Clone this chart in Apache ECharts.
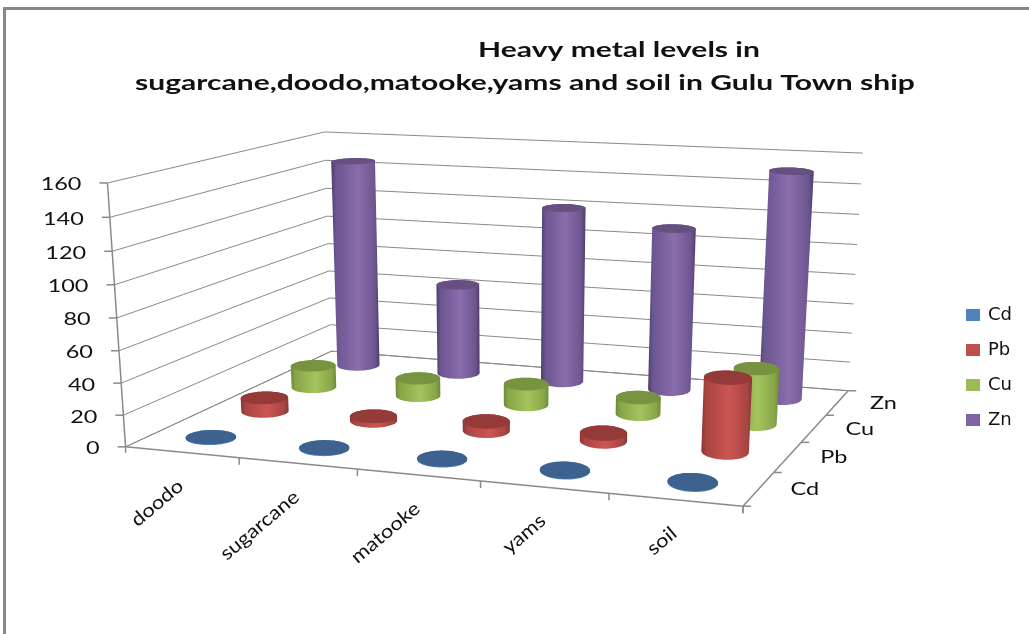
<!DOCTYPE html>
<html>
<head>
<meta charset="utf-8">
<title>Heavy metal levels</title>
<style>html,body{margin:0;padding:0;background:#fff}#chart{width:1029px;height:634px}</style>
<script src="https://cdn.jsdelivr.net/npm/echarts@6/dist/echarts.min.js"></script>
</head>
<body>
<div id="chart"></div>
<script>
// Sample sites and the metals measured at each one
const categories = ['doodo', 'sugarcane', 'matooke', 'yams', 'soil'];
const metals = ['Cd', 'Pb', 'Cu', 'Zn'];
const yTicks = [0, 20, 40, 60, 80, 100, 120, 140, 160];

// Concentration per site
const cdValues = [0.5, 0.5, 0.5, 0.5, 0.5];
const pbValues = [9, 3, 6, 5, 46];
const cuValues = [15, 12, 14, 11, 36];
const znValues = [145, 63, 120, 110, 151];
const valuesByMetal = [cdValues, pbValues, cuValues, znValues];

const titleLines = ['Heavy metal levels in', 'sugarcane,doodo,matooke,yams and soil in Gulu Town ship'];

// Office-style fill colours: legend swatch, lit side, shoulder, shaded edge, top cap
const swatch = ['#4F81BD', '#C0504D', '#9BBB59', '#8064A2'];
const lit = ['#5B8FD0', '#CC5553', '#A3C45D', '#8A6DAC'];
const shoulder = ['#4A78B0', '#A84542', '#88A548', '#6C5690'];
const edge = ['#3A6295', '#8A3634', '#6E8838', '#4F3D6B'];
const cap = ['#3D628F', '#943A38', '#78933F', '#66507F'];
const lineColor = '#8A8A8A';
const labelFont = 'Lato, "Open Sans", sans-serif';

// Camera calibration: [u, v, h] box corners and where they land on the page
const calibration = [
  [0, 0, 0, 125, 447], [1, 0, 0, 743, 506], [1, 1, 0, 848, 391], [0, 1, 0, 332, 351],
  [0, 0, 1, 108, 183], [0, 1, 1, 324, 132], [1, 1, 1, 863, 153]
];

// Least-squares fit of a 3x4 projective camera (last term fixed at 1)
function fitCamera(pts) {
  const n = 11, A = [...Array(n)].map(() => Array(n + 1).fill(0));
  const add = (row, rhs) => {
    for (let a = 0; a < n; a++) {
      for (let b = 0; b < n; b++) A[a][b] += row[a] * row[b];
      A[a][n] += row[a] * rhs;
    }
  };
  pts.forEach(([u, v, h, x, y]) => {
    add([u, v, h, 1, 0, 0, 0, 0, -x * u, -x * v, -x * h], x);
    add([0, 0, 0, 0, u, v, h, 1, -y * u, -y * v, -y * h], y);
  });
  for (let c = 0; c < n; c++) {
    let p = c;
    for (let r = c + 1; r < n; r++) if (Math.abs(A[r][c]) > Math.abs(A[p][c])) p = r;
    [A[c], A[p]] = [A[p], A[c]];
    for (let r = 0; r < n; r++) {
      if (r === c) continue;
      const f = A[r][c] / A[c][c];
      for (let k = c; k <= n; k++) A[r][k] -= f * A[c][k];
    }
  }
  return A.map((row, i) => row[n] / row[i]);
}
const cam = fitCamera(calibration);
function project(u, v, h) {
  const w = cam[8] * u + cam[9] * v + cam[10] * h + 1;
  return [(cam[0] * u + cam[1] * v + cam[2] * h + cam[3]) / w,
          (cam[4] * u + cam[5] * v + cam[6] * h + cam[7]) / w];
}

// Unit coordinates along the box
const unitU = (cs, x) => (x - cs.x) / cs.width;
const unitH = (cs, y) => (cs.y + cs.height - y) / cs.height;
const depthOf = j => (j + 0.5) / metals.length;

function line(a, b, width) {
  return {
    type: 'line',
    shape: { x1: a[0], y1: a[1], x2: b[0], y2: b[1] },
    style: { stroke: lineColor, lineWidth: width || 1 }
  };
}
function label(text, x, y, opts) {
  const o = opts || {};
  return {
    type: 'text', x, y,
    rotation: o.rotation || 0,
    scaleX: o.scaleX || 1.38,
    style: {
      text, fill: '#111', fontFamily: labelFont, fontSize: o.fontSize || 17,
      align: o.align || 'center', verticalAlign: 'middle'
    }
  };
}

function convexHull(points) {
  const p = points.slice().sort((a, b) => a[0] - b[0] || a[1] - b[1]);
  const cross = (o, a, b) => (a[0] - o[0]) * (b[1] - o[1]) - (a[1] - o[1]) * (b[0] - o[0]);
  const half = list => {
    const out = [];
    list.forEach(q => {
      while (out.length > 1 && cross(out[out.length - 2], out[out.length - 1], q) <= 0) out.pop();
      out.push(q);
    });
    out.pop();
    return out;
  };
  return half(p).concat(half(p.slice().reverse()));
}

// One metal's row of cylinders
const radiusU = 0.18 / categories.length;
const radiusV = 0.27 / metals.length;

// Disc at height z, levelled so it only keeps a slight lean that grows across the width
function disc(u, v, z) {
  const c = project(u, v, z);
  const pts = [];
  let xx = 0, xy = 0;
  for (let k = 0; k < 64; k++) {
    const t = k / 64 * Math.PI * 2;
    const p = project(u + radiusU * Math.cos(t), v + radiusV * Math.sin(t), z);
    const d = [p[0] - c[0], p[1] - c[1]];
    xx += d[0] * d[0];
    xy += d[0] * d[1];
    pts.push(d);
  }
  const slope = xy / xx, lean = -0.03 + 0.07 * u;
  return pts.map(d => [c[0] + d[0], c[1] + d[1] + (lean - slope) * d[0]]);
}

function cylinderRenderer(j) {
  return function (params, api) {
    const cs = params.coordSys;
    const i = api.value(0);
    const top = api.coord([i, api.value(1)]);
    const u = unitU(cs, top[0]);
    const h = unitH(cs, top[1]);
    const v = depthOf(j);
    const topRing = disc(u, v, h);
    const shade = new echarts.graphic.LinearGradient(0, 0, 1, 0, [
      { offset: 0, color: edge[j] },
      { offset: 0.1, color: shoulder[j] },
      { offset: 0.55, color: lit[j] },
      { offset: 0.9, color: shoulder[j] },
      { offset: 1, color: edge[j] }
    ]);
    return {
      type: 'group',
      children: [
        { type: 'polygon', shape: { points: convexHull(disc(u, v, 0).concat(topRing)) }, style: { fill: shade } },
        { type: 'polygon', shape: { points: topRing }, style: { fill: cap[j] } }
      ]
    };
  };
}

// Walls: one gridline per value tick, with its tick mark and label
function renderValueGrid(params, api) {
  const cs = params.coordSys;
  const value = api.value(1);
  const h = unitH(cs, api.coord([0, value])[1]);
  const front = project(0, 0, h), back = project(0, 1, h), right = project(1, 1, h);
  return {
    type: 'group',
    children: [
      line(front, back), line(back, right),
      line([front[0] - 8, front[1]], front, 1.5),
      label(String(value), front[0] - 26, front[1] + 2, { align: 'right' })
    ]
  };
}

function renderCategoryAxis(params, api) {
  const cs = params.coordSys;
  const i = api.value(0);
  const band = 1 / categories.length;
  const u = unitU(cs, api.coord([i, 0])[0]);
  const mid = project(u, 0, 0), tick = project(u + band / 2, 0, 0);
  return {
    type: 'group',
    children: [
      line(tick, [tick[0], tick[1] + 7], 1.5),
      label(categories[i], mid[0] - 1, mid[1] + 31, { align: 'right', rotation: 40 * Math.PI / 180, scaleX: 1.15, fontSize: 19 })
    ]
  };
}

function renderDepthAxis(params, api) {
  const j = api.value(0);
  const mid = project(1, depthOf(j), 0), tick = project(1, (j + 1) / metals.length, 0);
  return {
    type: 'group',
    children: [
      line(tick, [tick[0] + 8, tick[1]], 1.5),
      label(metals[j], mid[0] + 46, mid[1] + 1)
    ]
  };
}

// Box edges and the end ticks shared by the axes
function renderBox() {
  const a = project(0, 0, 0), b = project(1, 0, 0), c = project(1, 1, 0), d = project(0, 1, 0), t = project(0, 0, 1);
  return {
    type: 'group',
    children: [
      line(a, t, 1.5), line(a, b, 1.5), line(b, c, 1.5), line(a, d), line(d, c),
      line(a, [a[0], a[1] + 6], 1.5), line(b, [b[0], b[1] + 7], 1.5), line(b, [b[0] + 8, b[1]], 1.5)
    ]
  };
}

const cylinderSeries = metals.map((name, j) => ({
  type: 'custom',
  name,
  z: 10 - j,
  coordinateSystem: 'cartesian2d',
  itemStyle: { color: swatch[j] },
  data: valuesByMetal[j].map((value, i) => [i, value]),
  encode: { x: 0, y: 1 },
  renderItem: cylinderRenderer(j)
}));

const chart = echarts.init(document.getElementById('chart'), null, { renderer: 'canvas' });
chart.setOption({
  animation: false,
  backgroundColor: '#fff',
  grid: { left: 100, top: 100, width: 600, height: 300, show: false },
  xAxis: { type: 'category', data: categories, show: false },
  yAxis: { type: 'value', min: 0, max: 160, interval: 20, show: false },
  legend: {
    data: metals, orient: 'vertical', left: 966, top: 306, padding: 0,
    itemWidth: 14, itemHeight: 12, itemGap: 17,
    icon: 'rect',
    textStyle: { color: '#111', fontFamily: '"DejaVu Sans", sans-serif', fontSize: 18, padding: [0, 0, 0, 3] }
  },
  graphic: [
    { type: 'rect', shape: { x: 3, y: 7, width: 1026, height: 3 }, style: { fill: '#888' }, silent: true },
    { type: 'rect', shape: { x: 3, y: 7, width: 3, height: 627 }, style: { fill: '#888' }, silent: true },
    { type: 'text', x: 619, y: 50, scaleX: 1.43, style: { text: titleLines[0], fill: '#111', fontFamily: labelFont, fontWeight: 'bold', fontSize: 21, align: 'center', verticalAlign: 'middle' } },
    { type: 'text', x: 525, y: 83, scaleX: 1.43, style: { text: titleLines[1], fill: '#111', fontFamily: labelFont, fontWeight: 'bold', fontSize: 21, align: 'center', verticalAlign: 'middle' } }
  ],
  series: [
    { type: 'custom', name: 'box', z: 1, silent: true, coordinateSystem: 'cartesian2d', data: [[0, 0]], renderItem: renderBox },
    { type: 'custom', name: 'value grid', z: 2, silent: true, coordinateSystem: 'cartesian2d', data: yTicks.map(t => [0, t]), encode: { x: 0, y: 1 }, renderItem: renderValueGrid },
    { type: 'custom', name: 'site axis', z: 2, silent: true, coordinateSystem: 'cartesian2d', data: categories.map((c, i) => [i, 0]), encode: { x: 0, y: 1 }, renderItem: renderCategoryAxis },
    { type: 'custom', name: 'metal axis', z: 2, silent: true, coordinateSystem: 'cartesian2d', data: metals.map((m, j) => [j, 0]), encode: { x: 0, y: 1 }, renderItem: renderDepthAxis }
  ].concat(cylinderSeries)
});
</script>
</body>
</html>
